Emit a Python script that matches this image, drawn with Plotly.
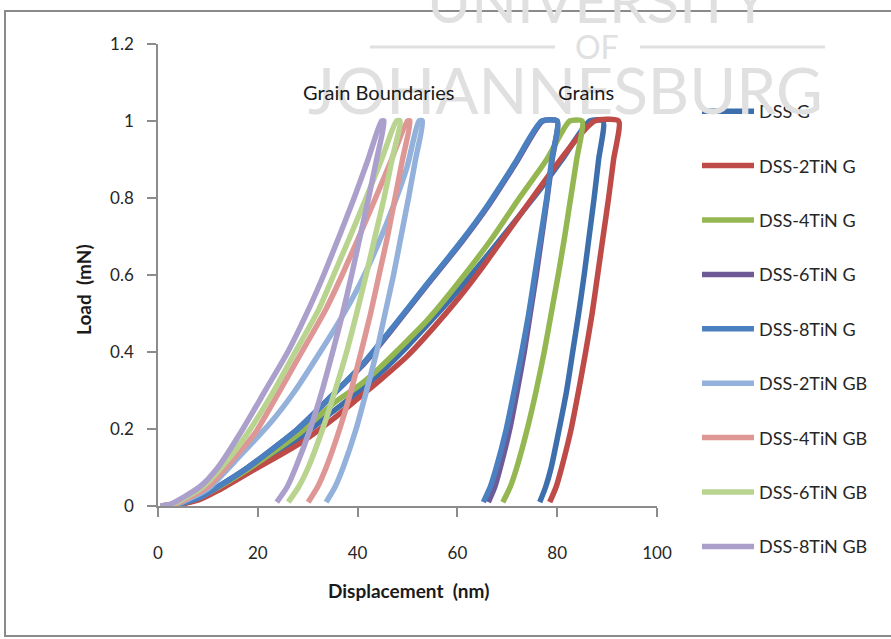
import plotly.graph_objects as go

# ---------------- data ----------------
series_names = ["DSS G", "DSS-2TiN G", "DSS-4TiN G", "DSS-6TiN G", "DSS-8TiN G",
                "DSS-2TiN GB", "DSS-4TiN GB", "DSS-6TiN GB", "DSS-8TiN GB"]
series_colors = ["#3D6FAD", "#BE4B48", "#94B752", "#6F5A98", "#4A80C0",
                 "#93B1DA", "#DE9794", "#B8D48F", "#ABA0CC"]

# loads (mN) along the unloading branch, common to all series
unload_load = [1.0, 0.9, 0.8, 0.7, 0.6, 0.5, 0.4, 0.3, 0.2, 0.1, 0.05, 0.01]

# DSS G
dss_g_load_disp = [0.5, 4, 8, 12, 18, 28.5, 35, 40.5, 44.5, 50, 55, 60.5, 65, 70, 76.5, 81, 86.5]
dss_g_load_val = [0, 0.004, 0.018, 0.045, 0.09, 0.178, 0.245, 0.3, 0.345, 0.415, 0.485, 0.565, 0.635, 0.715, 0.821, 0.9, 1.0]
dss_g_unload_disp = [89.2, 88.3, 87.4, 86.4, 85.4, 84.3, 83.1, 81.9, 80.4, 78.8, 77.7, 76.5]

# DSS-2TiN G
tin2_g_load_disp = [0.5, 4, 8, 12, 18, 28.5, 35, 40.5, 44.5, 50, 55, 60.5, 65, 70, 75, 80.6, 84, 87.5]
tin2_g_load_val = [0, 0.004, 0.015, 0.04, 0.085, 0.163, 0.225, 0.284, 0.327, 0.39, 0.46, 0.544, 0.62, 0.71, 0.8, 0.899, 0.955, 1.0]
tin2_g_unload_disp = [92.3, 91.3, 90.3, 89.2, 88.1, 87.0, 85.7, 84.3, 82.8, 80.9, 79.8, 78.5]

# DSS-4TiN G
tin4_g_load_disp = [0.5, 3.5, 8, 12, 18, 28.5, 35, 40.5, 44.5, 50, 53.8, 60.5, 67.2, 72, 77.9, 82.5]
tin4_g_load_val = [0, 0.004, 0.02, 0.048, 0.095, 0.19, 0.265, 0.315, 0.36, 0.43, 0.48, 0.585, 0.7, 0.792, 0.9, 1.0]
tin4_g_unload_disp = [85.0, 83.9, 82.7, 81.5, 80.2, 78.8, 77.4, 75.8, 74.0, 71.9, 70.6, 69.1]

# DSS-6TiN G
tin6_g_load_disp = [0.5, 3.5, 8, 12, 18, 28, 35.5, 41.3, 47.3, 53.7, 60.7, 66.2, 71.7, 77.1]
tin6_g_load_val = [0, 0.004, 0.02, 0.05, 0.1, 0.2, 0.295, 0.37, 0.465, 0.57, 0.683, 0.78, 0.89, 1.0]
tin6_g_unload_disp = [80.0, 79.0, 78.0, 76.9, 75.8, 74.6, 73.4, 72.0, 70.5, 68.6, 67.5, 66.2]

# DSS-8TiN G
tin8_g_load_disp = [0.5, 3.5, 8, 12, 18, 28, 35.5, 41.1, 47.1, 53.5, 60.5, 66, 71.5, 76.9]
tin8_g_load_val = [0, 0.004, 0.02, 0.05, 0.1, 0.2, 0.295, 0.37, 0.465, 0.57, 0.683, 0.78, 0.89, 1.0]
tin8_g_unload_disp = [80.0, 78.9, 77.9, 76.7, 75.5, 74.3, 72.9, 71.4, 69.8, 67.8, 66.6, 65.2]

# DSS-2TiN GB
tin2_gb_load_disp = [0.5, 4, 10, 16.4, 22.8, 27.5, 32.5, 36.8, 40.6, 44.1, 47.2, 49.9, 52.3]
tin2_gb_load_val = [0, 0.006, 0.045, 0.13, 0.22, 0.3, 0.4, 0.49, 0.58, 0.68, 0.78, 0.88, 1.0]
tin2_gb_unload_disp = [53.0, 51.6, 50.2, 48.7, 47.2, 45.5, 43.8, 41.8, 39.7, 37.1, 35.5, 33.7]

# DSS-4TiN GB
tin4_gb_load_disp = [0.5, 3.5, 10, 15, 19.5, 24, 28.8, 33.6, 36.9, 40.3, 43.6, 46.8, 50]
tin4_gb_load_val = [0, 0.005, 0.05, 0.12, 0.19, 0.29, 0.4, 0.51, 0.6, 0.7, 0.8, 0.9, 1.0]
tin4_gb_unload_disp = [50.5, 49.0, 47.5, 46.0, 44.3, 42.6, 40.7, 38.7, 36.4, 33.7, 32.0, 30.1]

# DSS-6TiN GB
tin6_gb_load_disp = [0.5, 3, 9, 14, 18, 22.8, 27.5, 32.2, 35.2, 38.5, 41.7, 44.8, 47.8]
tin6_gb_load_val = [0, 0.005, 0.05, 0.12, 0.19, 0.29, 0.4, 0.51, 0.6, 0.7, 0.8, 0.9, 1.0]
tin6_gb_unload_disp = [48.5, 46.9, 45.3, 43.5, 41.7, 39.8, 37.8, 35.5, 33.0, 30.1, 28.2, 26.1]

# DSS-8TiN GB
tin8_gb_load_disp = [0.5, 2.5, 8.4, 12, 17, 21.5, 26, 30.5, 33.2, 36.3, 39.3, 42.1, 44.8]
tin8_gb_load_val = [0, 0.005, 0.05, 0.1, 0.2, 0.3, 0.4, 0.52, 0.6, 0.7, 0.8, 0.9, 1.0]
tin8_gb_unload_disp = [45.3, 43.8, 42.2, 40.5, 38.8, 37.0, 35.0, 32.9, 30.5, 27.6, 25.9, 23.8]

x_ticks = [0, 20, 40, 60, 80, 100]
y_ticks = [0, 0.2, 0.4, 0.6, 0.8, 1.0, 1.2]
y_tick_text = ["0", "0.2", "0.4", "0.6", "0.8", "1", "1.2"]

series_data = [
    (dss_g_load_disp, dss_g_load_val, dss_g_unload_disp),
    (tin2_g_load_disp, tin2_g_load_val, tin2_g_unload_disp),
    (tin4_g_load_disp, tin4_g_load_val, tin4_g_unload_disp),
    (tin6_g_load_disp, tin6_g_load_val, tin6_g_unload_disp),
    (tin8_g_load_disp, tin8_g_load_val, tin8_g_unload_disp),
    (tin2_gb_load_disp, tin2_gb_load_val, tin2_gb_unload_disp),
    (tin4_gb_load_disp, tin4_gb_load_val, tin4_gb_unload_disp),
    (tin6_gb_load_disp, tin6_gb_load_val, tin6_gb_unload_disp),
    (tin8_gb_load_disp, tin8_gb_load_val, tin8_gb_unload_disp),
]

# ---------------- figure ----------------
W, H = 891, 639
L, R, T, B = 158, 657, 44, 506
FONT = "Lato"

def px(xp):
    return (xp - L) / (R - L)

def py(yp):
    return (B - yp) / (B - T)

fig = go.Figure()
for i, (name, color, (ld, lv, ud)) in enumerate(zip(series_names, series_colors, series_data)):
    fig.add_trace(go.Scatter(
        x=ld + ud, y=lv + unload_load, mode="lines", name=name,
        line=dict(color=color, width=5.5, shape="spline", smoothing=0.6),
        legendgroup=f"g{i}",
    ))

axis_common = dict(showgrid=False, zeroline=False, showline=True, linecolor="#8C8C8C",
                   linewidth=1.5, ticks="outside", ticklen=9, tickwidth=1.5,
                   tickcolor="#8C8C8C", tickfont=dict(family=FONT, size=17, color="#262626"))

fig.update_layout(
    width=W, height=H,
    margin=dict(l=L, r=W - R, t=T, b=H - B, autoexpand=False),
    paper_bgcolor="white", plot_bgcolor="white",
    xaxis=dict(range=[0, 100], tickvals=x_ticks, ticklabelstandoff=22, **axis_common),
    yaxis=dict(range=[0, 1.2], tickvals=y_ticks, ticktext=y_tick_text, ticklabelstandoff=10,
               **axis_common),
    legend=dict(x=px(697), y=py(93), xanchor="left", yanchor="top",
                font=dict(family=FONT, size=18, color="#262626"),
                tracegroupgap=28, bgcolor="rgba(0,0,0,0)", itemwidth=52,
                maxheight=620),
    showlegend=True,
)

annotations = [
    dict(text="UNIVERSITY", x=px(598), y=py(0), font=dict(family=FONT, size=60, color="#E0E0E0")),
    dict(text="OF", x=px(597), y=py(47), font=dict(family=FONT, size=32, color="#E0E0E0")),
    dict(text="JOHANNESBURG", x=px(565), y=py(90), font=dict(family=FONT, size=64, color="#E0E0E0")),
    dict(text="Grain Boundaries", x=px(378), y=py(92), font=dict(family=FONT, size=20, color="#1A1A1A")),
    dict(text="Grains", x=px(586), y=py(92), font=dict(family=FONT, size=20, color="#1A1A1A")),
    dict(text="<b>Displacement  (nm)</b>", x=px(408), y=py(590), font=dict(family=FONT, size=19, color="#1A1A1A")),
    dict(text="<b>Load  (mN)</b>", x=px(83), y=py(290), textangle=-90, font=dict(family=FONT, size=19, color="#1A1A1A")),
]
for a in annotations:
    a.update(xref="paper", yref="paper", showarrow=False, xanchor="center", yanchor="middle")
    fig.add_annotation(**a)

shapes = [
    dict(type="line", x0=px(370), x1=px(555), y0=py(47), y1=py(47), line=dict(color="#E0E0E0", width=3)),
    dict(type="line", x0=px(640), x1=px(825), y0=py(47), y1=py(47), line=dict(color="#E0E0E0", width=3)),
    dict(type="rect", x0=px(5), x1=px(900), y0=py(11), y1=py(636), line=dict(color="#8A8A8A", width=2)),
]
for s in shapes:
    s.update(xref="paper", yref="paper", layer="below")
    fig.add_shape(**s)

fig.write_html("out.html", config={"displayModeBar": False},
               post_script="document.body.style.margin='0';document.body.style.padding='0';")
